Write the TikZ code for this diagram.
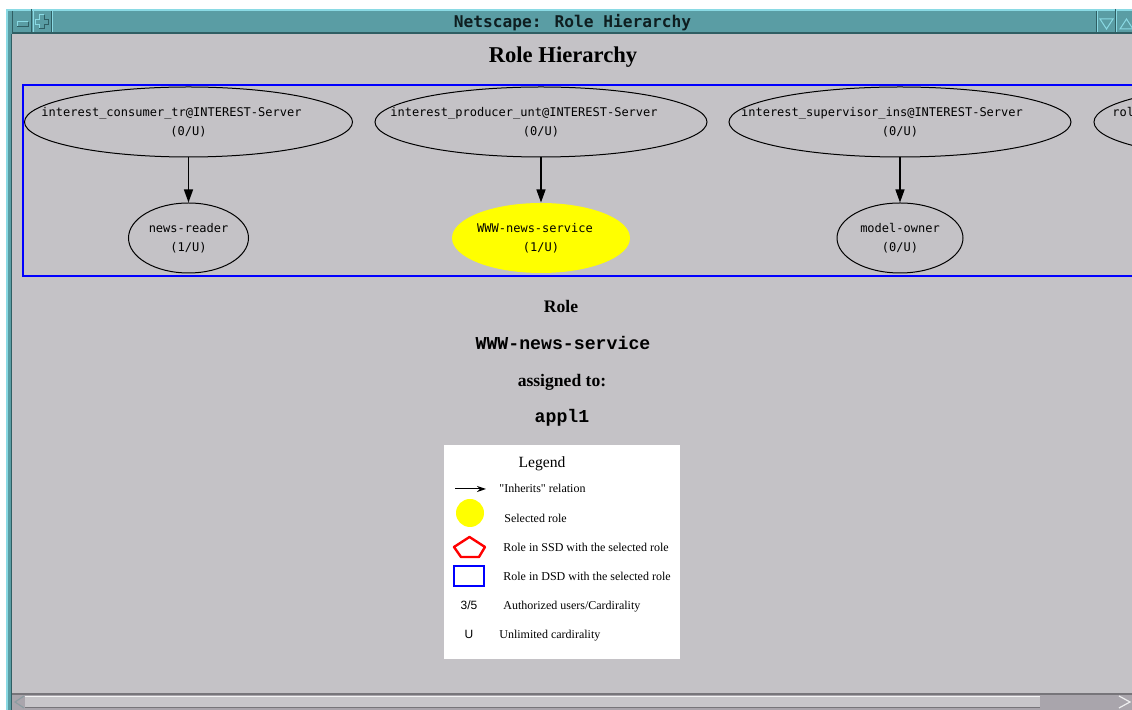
\documentclass[tikz,border=0pt]{standalone}
\usepackage{fontspec}
\setmainfont{Liberation Serif}
\newfontfamily\nodemono{DejaVu Sans Mono}
\newfontfamily\pagemono{Liberation Mono}
\newfontfamily\legsans{Liberation Sans}
\usetikzlibrary{shapes.geometric,arrows.meta}

\definecolor{winbg}{HTML}{C4C2C6}
\definecolor{barteal}{HTML}{5A9DA4}
\definecolor{barlight}{HTML}{8ADAE4}
\definecolor{bardark}{HTML}{2F5E63}
\definecolor{selyellow}{HTML}{FFFF00}
\definecolor{sbdark}{HTML}{77757A}
\definecolor{sbtrough}{HTML}{A9A5AC}
\definecolor{sbthumb}{HTML}{C8C6CA}
\definecolor{titleink}{HTML}{0E1E20}

% two-line role label that does not widen its ellipse; #3 pushes line one left
\newcommand\rlab[3]{\makebox[0pt]{\raisebox{-1.5pt}[0pt][0pt]{%
  \begin{tabular}{@{}c@{}}#1\hspace*{#3}\\#2\end{tabular}}}}

\tikzset{
  role/.style={ellipse, draw=black, line width=0.5pt, inner sep=0pt,
    minimum height=35pt, font=\nodemono\fontsize{6}{9.5}\selectfont},
  selrole/.style={role, draw=none, fill=selyellow},
  inherit/.style={-{Triangle[length=6.5pt,width=4.5pt]}, line width=0.7pt},
  pagehead/.style={anchor=base, inner sep=0pt, font=\bfseries\fontsize{8.8}{10}\selectfont},
  pagecode/.style={anchor=base, inner sep=0pt, font=\pagemono\bfseries\fontsize{9.1}{10}\selectfont},
  legtext/.style={anchor=base west, inner sep=0pt, font=\fontsize{6}{7}\selectfont},
  legsym/.style={anchor=base, inner sep=0pt, font=\legsans\fontsize{6}{7}\selectfont},
  bevlight/.style={barlight, line width=0.5pt},
  bevdark/.style={bardark, line width=0.5pt},
}

\begin{document}
\begin{tikzpicture}[x=0.5pt,y=-0.5pt]
\useasboundingbox (0,0) rectangle (1132,710);
\fill[white] (0,0) rectangle (1132,710);

% ---- window frame and title bar
\fill[barteal] (6,9) rectangle (1132,34);
\fill[barteal] (6,9) rectangle (12,710);
\fill[barlight] (6,9) rectangle (1132,11);
\fill[barlight] (6,9) rectangle (8,710);
\fill[bardark] (12,32) rectangle (1132,34);
\fill[bardark] (11,34) rectangle (12,710);
\fill[winbg] (12,34) rectangle (1132,693);

% title bar buttons
\draw[bevdark] (12,11) -- (12,32);
\draw[bevdark] (31.5,9) -- (31.5,32);
\draw[bevlight] (33,11) -- (33,32);
\draw[bevdark] (51,11) -- (51,32);
\draw[bevlight] (52.5,11) -- (52.5,32);
\draw[bevlight] (17,27) -- (17,22) -- (28,22);
\draw[bevdark] (17,27) -- (28,27) -- (28,22);
\draw[bevlight] (39,29) -- (39,24.5) -- (35,24.5) -- (35,19.5) -- (39,19.5) -- (39,15) -- (44,15);
\draw[bevdark] (44,15) -- (44,19.5) -- (48,19.5) -- (48,24.5) -- (44,24.5) -- (44,29) -- (39,29);
\draw[bevdark] (1096,11) -- (1096,32);
\draw[bevlight] (1097.5,11) -- (1097.5,32);
\draw[bevdark] (1115,9) -- (1115,32);
\draw[bevlight] (1116.5,11) -- (1116.5,32);
\draw[bevlight] (1100,19) -- (1113,19) -- (1106.5,29) -- cycle;
\draw[bevlight] (1120,29) -- (1133,29) -- (1126.5,19) -- cycle;

\node[anchor=base, inner sep=0pt, text=titleink,
  font=\nodemono\bfseries\fontsize{8.1}{9}\selectfont] (wintitle) at (572.5,28) {Netscape: Role Hierarchy};

% ---- horizontal scrollbar
\fill[sbdark] (12,693) rectangle (1132,695);
\fill[sbtrough] (12,695) rectangle (1132,710);
\fill[sbthumb] (25,696) rectangle (1040,708);
\fill[white!80!sbthumb] (25,696) rectangle (1040,697.5);
\fill[sbdark] (25,707) rectangle (1040,708);
\draw[bardark!40!sbthumb, line width=0.6pt] (24,696) -- (15,702) -- (24,708);
\draw[white!70!sbthumb, line width=0.6pt] (1119,696) -- (1130,702) -- (1119,708);

% ---- page heading
\node[anchor=base, inner sep=0pt, font=\bfseries\fontsize{11.3}{13}\selectfont] (pagetitle) at (563,63) {Role Hierarchy};

% ---- role graph
\begin{scope}
\clip (12,34) rectangle (1132,693);
\draw[blue, line width=1.1pt] (1150,85) -- (23,85) -- (23,276) -- (1150,276);

\node[role, minimum width=164pt] (cons) at (188.5,122)
  {\rlab{interest\_consumer\_tr@INTEREST-Server}{(0/U)}{17pt}};
\node[role, minimum width=166pt] (prod) at (541,122)
  {\rlab{interest\_producer\_unt@INTEREST-Server}{(0/U)}{17pt}};
\node[role, minimum width=171pt] (supv) at (900,122)
  {\rlab{interest\_supervisor\_ins@INTEREST-Server}{(0/U)}{18pt}};
\node[role, minimum width=150pt] (more) at (1244,122) {};
\node[anchor=base west, inner sep=0pt, font=\nodemono\fontsize{6}{9.5}\selectfont] (moretxt) at (1112,117) {rol};

\node[role, minimum width=60pt] (nread) at (188.5,238) {\rlab{news-reader}{(1/U)}{0pt}};
\node[selrole, minimum width=89pt] (wwwsvc) at (541,238) {\rlab{WWW-news-service}{(1/U)}{6pt}};
\node[role, minimum width=63pt] (mowner) at (900,238) {\rlab{model-owner}{(0/U)}{0pt}};

\draw[inherit] (cons.south) -- (nread.north);
\draw[inherit] (prod.south) -- (wwwsvc.north);
\draw[inherit] (supv.south) -- (mowner.north);
\end{scope}

% ---- selected role details
\node[pagehead] (rolehead) at (561,313) {Role};
\node[pagecode] (rolename) at (563,350) {WWW-news-service};
\node[pagehead] (assignhead) at (562,387) {assigned to:};
\node[pagecode] (assignee) at (562,423) {appl1};

% ---- legend
\fill[white] (444,445) rectangle (680,659);
\node[anchor=base, inner sep=0pt, font=\fontsize{7.8}{9}\selectfont] (leghead) at (542,468) {Legend};

\coordinate (arrA) at (455,489);
\coordinate (arrB) at (486,489);
\draw[-{Stealth[length=4.5pt,width=3pt]}, line width=0.5pt] (arrA) -- (arrB);
\node[legtext] (leginh) at (499,493) {\textquotedbl Inherits\textquotedbl{} relation};

\node[circle, fill=selyellow, minimum size=14pt, inner sep=0pt] (legsel) at (470,513) {};
\node[legtext] (legseltxt) at (504,523) {Selected role};

\draw[red, line width=1.2pt, line join=round] (469.5,537) -- (485,547) -- (479,557) -- (461,557) -- (454,547) -- cycle;
\node[legtext] (legssd) at (503,552) {Role in SSD with the selected role};

\draw[blue, line width=1.2pt] (454,566) rectangle (484,586);
\node[legtext] (legdsd) at (503,581) {Role in DSD with the selected role};

\node[legsym] (legfrac) at (469,610) {3/5};
\node[legtext] (legcard) at (503,610) {Authorized users/Cardirality};

\node[legsym] (legu) at (469,639) {U};
\node[legtext] (legunl) at (499,639) {Unlimited cardirality};
\end{tikzpicture}
\end{document}
